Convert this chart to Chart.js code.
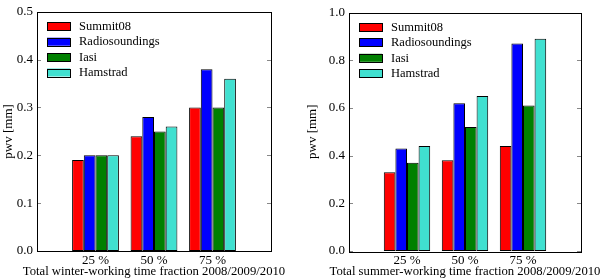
<!DOCTYPE html>
<html>
<head>
<meta charset="utf-8">
<script src="https://cdn.jsdelivr.net/npm/chart.js@4"></script>
<style>
  html, body { margin: 0; padding: 0; background: #fff; }
  .wrap { position: absolute; top: 0; width: 300px; height: 280px; }
  canvas { display: block; }
</style>
</head>
<body>
<div class="wrap" style="left:0"><canvas id="c1" width="300" height="280"></canvas></div>
<div class="wrap" style="left:300px"><canvas id="c2" width="300" height="280"></canvas></div>
<script>
// ---- data ----
const categories = ['', '25 %', '50 %', '75 %', ''];
const seriesNames = ['Summit08', 'Radiosoundings', 'Iasi', 'Hamstrad'];
const seriesColors = ['#ff0000', '#0000ff', '#008000', '#40e0d0'];

const winterSummit08 = [null, 0.19, 0.24, 0.30, null];
const winterRadio    = [null, 0.20, 0.28, 0.38, null];
const winterIasi     = [null, 0.20, 0.25, 0.30, null];
const winterHamstrad = [null, 0.20, 0.26, 0.36, null];

const summerSummit08 = [null, 0.33, 0.38, 0.44, null];
const summerRadio    = [null, 0.43, 0.62, 0.87, null];
const summerIasi     = [null, 0.37, 0.52, 0.61, null];
const summerHamstrad = [null, 0.44, 0.65, 0.89, null];

const winterTicks = { max: 0.5, step: 0.1 };
const summerTicks = { max: 1.0, step: 0.2 };
const winterTitle = 'Total winter-working time fraction 2008/2009/2010';
const summerTitle = 'Total summer-working time fraction 2008/2009/2010';
const yTitle = 'pwv [mm]';

const FONT = "'Liberation Serif', 'DejaVu Serif', serif";

const framePlugin = {
  id: 'frame',
  afterDatasetsDraw(chart, args, opts) {
    const ctx = chart.ctx, a = chart.chartArea;
    ctx.save();
    ctx.strokeStyle = '#888';
    ctx.lineWidth = 1;
    const ys = chart.scales.y;
    ys.ticks.forEach((t, i) => {
      const py = Math.round(ys.getPixelForTick(i)) + 0.5;
      ctx.beginPath();
      ctx.moveTo(a.left, py); ctx.lineTo(a.left + 4, py);
      ctx.moveTo(a.right, py); ctx.lineTo(a.right - 4, py);
      ctx.stroke();
    });
    ctx.strokeStyle = '#000';
    ctx.lineWidth = 1;
    ctx.strokeRect(Math.round(a.left) + 0.5, Math.round(a.top) + 0.5,
                   Math.round(a.right - a.left), Math.round(a.bottom - a.top));
    // legend inside plot
    const x0 = a.left + 10, y0 = a.top + 14.5, dy = 15.4;
    ctx.font = '12.5px ' + FONT;
    ctx.textBaseline = 'middle';
    ctx.textAlign = 'left';
    chart.data.datasets.forEach((ds, i) => {
      const cy = y0 + i * dy;
      ctx.fillStyle = ds.backgroundColor;
      ctx.fillRect(x0, cy - 4, 23, 8);
      ctx.strokeStyle = '#000';
      ctx.strokeRect(Math.round(x0) + 0.5, Math.round(cy - 4) + 0.5, 23, 8);
      ctx.fillStyle = '#000';
      ctx.fillText(ds.label, x0 + 32, cy + 0.5);
    });
    // x axis title (drawn without width compression)
    ctx.font = '12.7px ' + FONT;
    ctx.textAlign = 'center';
    ctx.fillText(opts.xTitle, (a.left + a.right) / 2, 272);
    ctx.restore();
  }
};

function makeChart(id, values, ticks, xTitle, yWidth, padRight, padTop, yTitlePad) {
  return new Chart(document.getElementById(id), {
    type: 'bar',
    data: {
      labels: categories,
      datasets: values.map((v, i) => ({
        label: seriesNames[i],
        data: v,
        backgroundColor: seriesColors[i],
        borderColor: '#000',
        borderWidth: 1,
        borderSkipped: false,
        categoryPercentage: 0.8,
        barPercentage: 1.0
      }))
    },
    options: {
      responsive: false,
      animation: false,
      layout: { padding: { top: padTop, right: padRight, left: 0, bottom: 0 } },
      plugins: { legend: { display: false }, tooltip: { enabled: false }, frame: { xTitle: xTitle } },
      scales: {
        x: {
          offset: false,
          grid: { display: false, drawTicks: false },
          border: { display: false },
          ticks: { color: '#000', font: { family: FONT, size: 13 }, padding: 2, maxRotation: 0, autoSkip: false },
          title: { display: false },
          afterFit(s) { s.height = 29; }
        },
        y: {
          min: 0, max: ticks.max,
          grid: { display: false, drawTicks: false },
          border: { display: false },
          ticks: {
            stepSize: ticks.step, color: '#000', padding: 4,
            font: { family: FONT, size: 13 },
            callback: v => Number(v).toFixed(1)
          },
          title: { display: true, text: yTitle, color: '#000', font: { family: FONT, size: 13 }, padding: { top: yTitlePad, bottom: 0 } },
          afterFit(s) { s.width = yWidth; }
        }
      }
    },
    plugins: [framePlugin]
  });
}

makeChart('c1', [winterSummit08, winterRadio, winterIasi, winterHamstrad], winterTicks, winterTitle, 37, 29, 9, 1);
makeChart('c2', [summerSummit08, summerRadio, summerIasi, summerHamstrad], summerTicks, summerTitle, 49, 19, 12.5, 5);
</script>
</body>
</html>
